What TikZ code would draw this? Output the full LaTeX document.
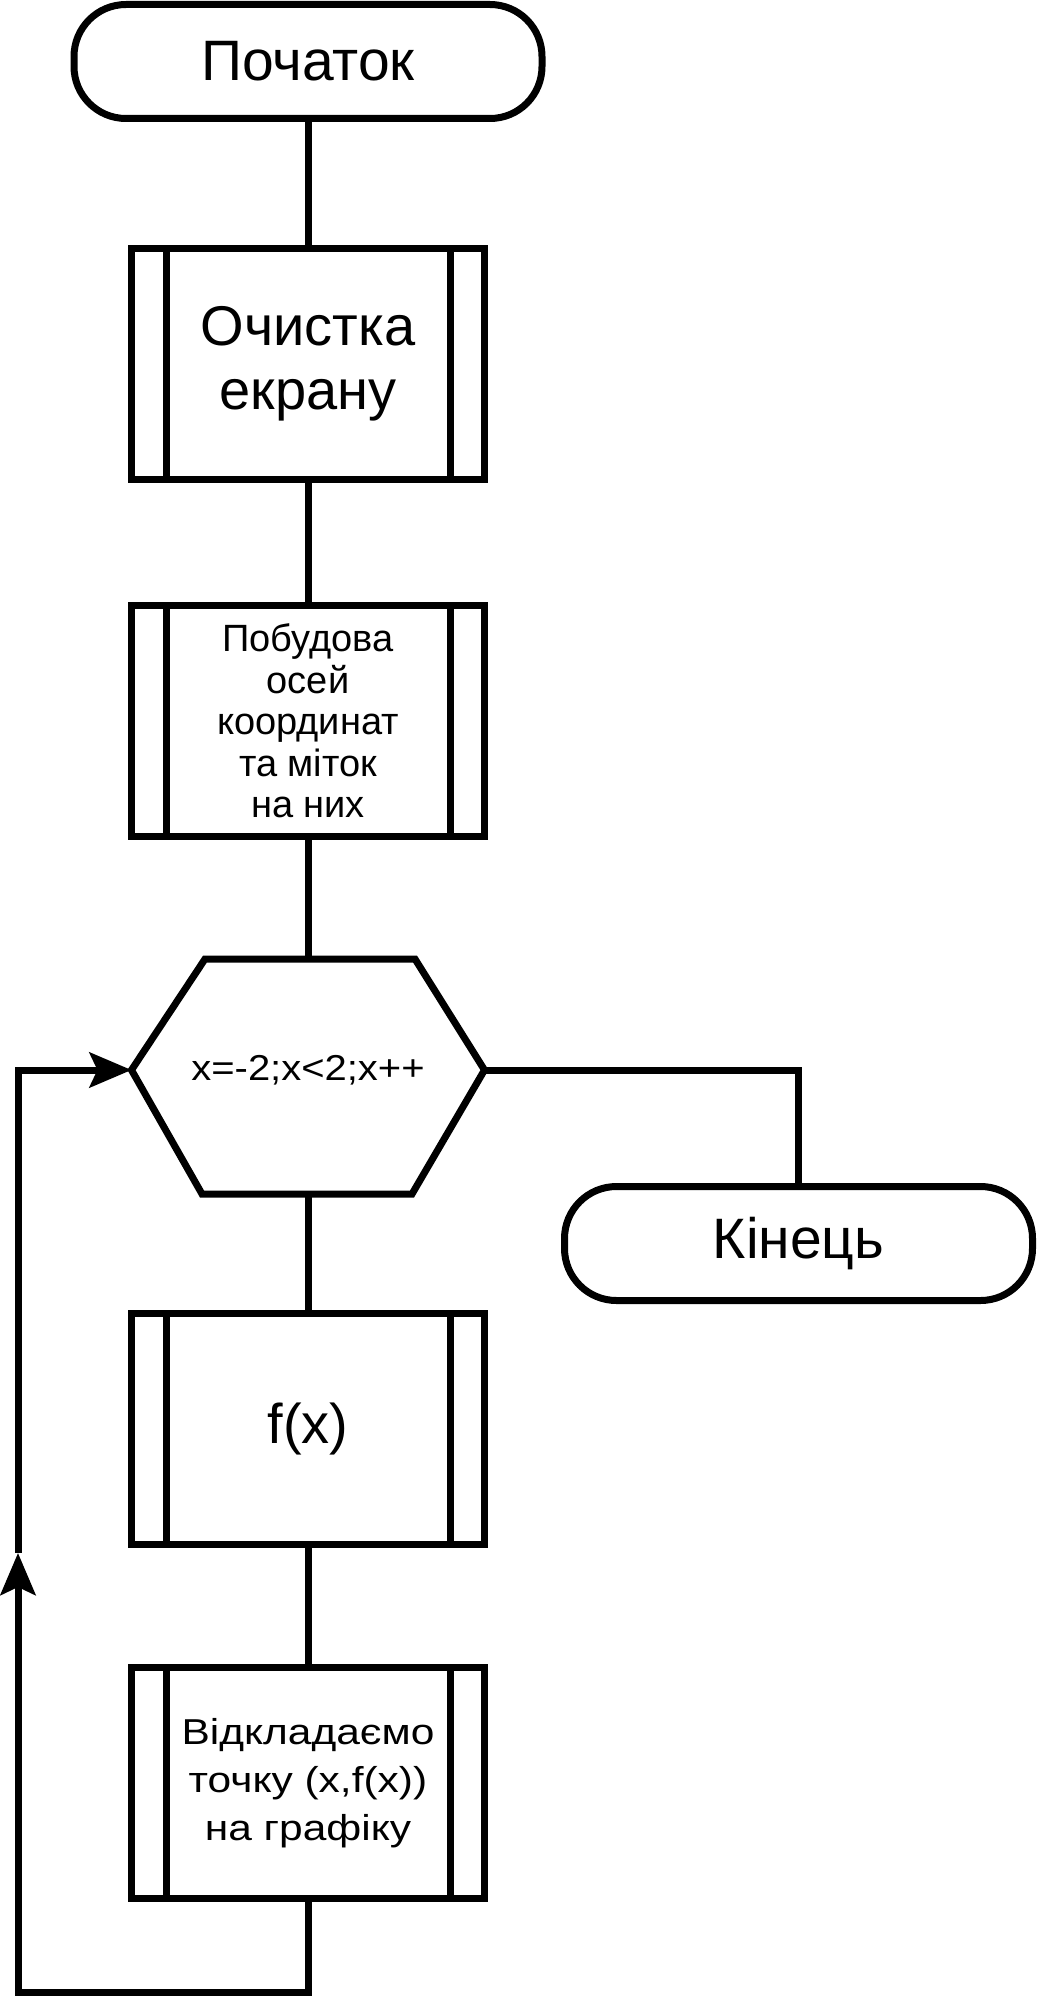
\documentclass[tikz,border=0pt]{standalone}
\usepackage{fontspec}
\setmainfont{Liberation Sans}
\newfontfamily\widesans[FakeStretch=1.11]{Liberation Sans}
\newfontfamily\widersans[FakeStretch=1.18]{Liberation Sans}
\usetikzlibrary{arrows.meta}
\begin{document}
\begin{tikzpicture}[x=0.5pt,y=-0.5pt,line width=3.5pt,
  terminal/.style={draw, rectangle, rounded corners=26pt, minimum width=234pt, minimum height=57pt, inner sep=0pt},
  subproc/.style={draw, rectangle, minimum width=176.5pt, minimum height=115.5pt, inner sep=0pt, align=center},
  tip/.style={-{Stealth[length=21pt,width=17.5pt,inset=4pt]}}
]
    \newcommand{\subbars}[1]{
        \draw ([xshift=19pt]#1.north west) -- ([xshift=19pt]#1.south west);
        \draw ([xshift=-19pt]#1.north east) -- ([xshift=-19pt]#1.south east);
    }
\useasboundingbox (0,0) rectangle (1040,1996);

\node[terminal, font=\fontsize{28.5}{32}\selectfont] (start) at (308,61.5) {Початок};
\node[subproc, font=\fontsize{28}{32}\selectfont] (clear) at (308,364) {Очистка\\екрану};
\node[subproc, font=\fontsize{19}{20.8}\selectfont] (axes) at (308,721) {Побудова\\осей\\координат\\та міток\\на них};
\node[minimum width=176.5pt, outer sep=0pt, font=\widesans\fontsize{18}{20}\selectfont] (loop) at (308,1070) {x=-2;x<2;x++};
\coordinate (loopN) at (308,959);
\coordinate (loopS) at (308,1194);
\draw (loop.west) -- (205,959) -- (415,959) -- (loop.east) -- (412,1194) -- (202,1194) -- cycle;
\node[subproc, font=\fontsize{28}{32}\selectfont] (f) at (308,1429) {f(x)};
\node[subproc, font=\widersans\fontsize{18}{24}\selectfont] (plot) at (308,1783) {Відкладаємо\\точку (x,f(x))\\на графіку};
\node[terminal, font=\fontsize{28.5}{32}\selectfont] (stop) at (798.5,1243.5) {Кінець};
\subbars{clear}
\subbars{axes}
\subbars{f}
\subbars{plot}

\draw (start.south) -- (clear.north);
\draw (clear.south) -- (axes.north);
\draw (axes.south) -- (loopN);
\draw (loopS) -- (f.north);
\draw (f.south) -- (plot.north);
\draw (loop.east) -| (stop.north);
\coordinate (back) at (18,1992);
\coordinate (up) at (18,1553);
\draw[tip] (plot.south) |- (back) -- (up);
\draw[tip] (up) |- (loop.west);

\end{tikzpicture}
\end{document}
